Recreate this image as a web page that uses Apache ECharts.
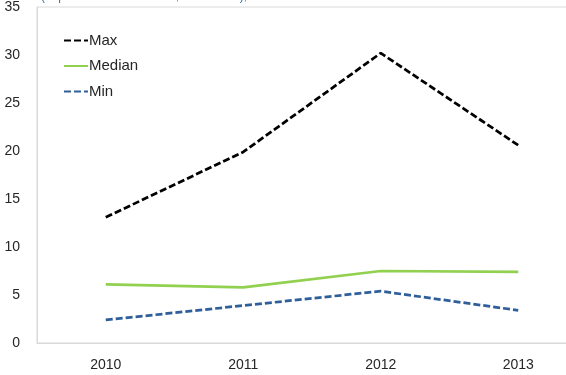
<!DOCTYPE html>
<html>
<head>
<meta charset="utf-8">
<script src="https://cdn.jsdelivr.net/npm/echarts@6/dist/echarts.min.js"></script>
<style>
  html, body { margin: 0; padding: 0; background: #fff; }
  #chart { width: 566px; height: 375px; }
</style>
</head>
<body>
<div id="chart"></div>
<script>
var years = ['2010', '2011', '2012', '2013']
var maxVals = [13.1, 19.9, 30.2, 20.6]
var medianVals = [6.1, 5.8, 7.5, 7.4]
var minVals = [2.4, 3.9, 5.4, 3.4]
var yTicks = [0, 5, 10, 15, 20, 25, 30, 35]

var chart = echarts.init(document.getElementById('chart'))
var font = 'Liberation Sans'

chart.setOption({
  animation: false,
  title: {
    text: '(In percent of total assets, 2010-2013),',
    left: 36,
    top: -14,
    textStyle: { color: '#2e75b6', fontSize: 12, fontWeight: 'normal', fontFamily: font }
  },
  grid: {
    left: 37, top: 7, bottom: 32, right: -21,
    outerBoundsMode: 'none',
    containLabel: false,
    show: true, borderColor: '#d9d9d9', borderWidth: 1
  },
  legend: {
    orient: 'vertical',
    left: 58,
    top: 28,
    itemWidth: 24,
    itemHeight: 14,
    itemGap: 10.5,
    itemStyle: { opacity: 0 },
    textStyle: { fontSize: 15, color: '#262626', fontFamily: font, padding: [0, 0, 0, -4] },
    data: ['Max', 'Median', 'Min']
  },
  xAxis: {
    type: 'category',
    data: years,
    boundaryGap: true,
    axisLine: { lineStyle: { color: '#d9d9d9' } },
    axisTick: { show: false },
    axisLabel: { color: '#262626', fontSize: 14, fontFamily: font, margin: 15 }
  },
  yAxis: {
    type: 'value',
    min: yTicks[0],
    max: yTicks[yTicks.length - 1],
    interval: 5,
    axisLine: { show: true, lineStyle: { color: '#d9d9d9' } },
    axisTick: { show: false },
    splitLine: { show: false },
    axisLabel: { color: '#262626', fontSize: 14, fontFamily: font, margin: 17 }
  },
  series: [
    {
      name: 'Max', type: 'line', data: maxVals,
      symbol: 'none', color: '#000000',
      lineStyle: { color: '#000000', width: 2.75, type: [7, 3] }
    },
    {
      name: 'Median', type: 'line', data: medianVals,
      symbol: 'none', color: '#92d050',
      lineStyle: { color: '#92d050', width: 2.75 }
    },
    {
      name: 'Min', type: 'line', data: minVals,
      symbol: 'none', color: '#2f5f9a',
      lineStyle: { color: '#2f5f9a', width: 2.75, type: [7, 3] }
    }
  ]
})
</script>
</body>
</html>
